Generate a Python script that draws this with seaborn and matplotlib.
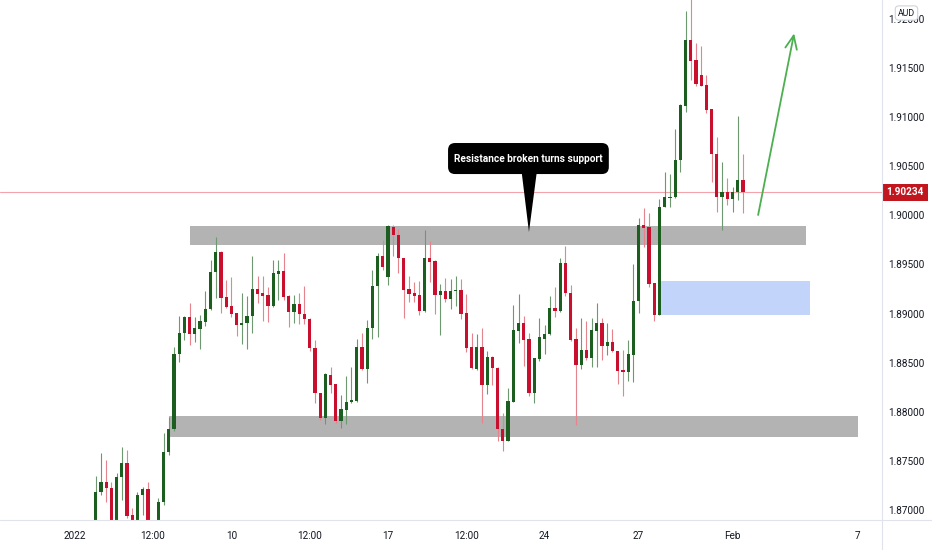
import numpy as np
import pandas as pd
import matplotlib
matplotlib.use("Agg")
import matplotlib.pyplot as plt
import seaborn as sns
from matplotlib.patches import Rectangle, FancyBboxPatch, Polygon
from matplotlib.lines import Line2D

sns.set_theme(style="white")
plt.rcParams['font.family'] = ['Roboto', 'DejaVu Sans']

# ---------------- data (4h candles, GBP/AUD style) ----------------
opens = [1.86817, 1.87180, 1.87282, 1.87221, 1.86817, 1.87339, 1.87482, 1.86949, 1.86857, 1.87153,
         1.87214, 1.86827, 1.86837, 1.87085, 1.87588, 1.87825, 1.88589, 1.88799, 1.88968, 1.88789,
         1.88843, 1.88917, 1.89050, 1.89421, 1.89630, 1.89172, 1.89077, 1.89003, 1.88887, 1.88901,
         1.88979, 1.89250, 1.89213, 1.89192, 1.89080, 1.89403, 1.89431, 1.89179, 1.89019, 1.89098,
         1.88996, 1.88948, 1.88653, 1.88188, 1.87934, 1.88375, 1.88280, 1.87909, 1.88018, 1.88097,
         1.88110, 1.88663, 1.88433, 1.88850, 1.89281, 1.89590, 1.89376, 1.89885, 1.89800, 1.89563,
         1.89250, 1.89213, 1.89186, 1.89029, 1.89566, 1.89539, 1.89189, 1.89233, 1.89146, 1.89230,
         1.89243, 1.89003, 1.88657, 1.88433, 1.88657, 1.88273, 1.88561, 1.88449, 1.87822, 1.87706,
         1.88103, 1.88826, 1.88901, 1.88738, 1.88194, 1.88538, 1.88741, 1.88789, 1.89054, 1.89023,
         1.89518, 1.89207, 1.88738, 1.88477, 1.88629, 1.88551, 1.88826, 1.88901, 1.88670, 1.88708,
         1.88619, 1.88426, 1.88408, 1.88578, 1.89131, 1.89902, 1.89885, 1.89309, 1.88986, 1.90089,
         1.90177, 1.90184, 1.90564, 1.91114, 1.91786, 1.91582, 1.91430, 1.91328, 1.91080, 1.90625,
         1.90184, 1.90235, 1.90164, 1.90241, 1.90360]
highs = [1.87349, 1.87577, 1.87509, 1.87288, 1.87374, 1.87638, 1.87611, 1.87017, 1.87186, 1.87237,
         1.87288, 1.86847, 1.87119, 1.87781, 1.87950, 1.88657, 1.88976, 1.88980, 1.89105, 1.88962,
         1.88986, 1.89230, 1.89546, 1.89783, 1.89637, 1.89342, 1.89370, 1.89006, 1.89207, 1.89179,
         1.89587, 1.89383, 1.89383, 1.89274, 1.89546, 1.89546, 1.89614, 1.89185, 1.89189, 1.89207,
         1.89284, 1.88955, 1.88731, 1.88191, 1.88398, 1.88459, 1.88283, 1.88171, 1.88365, 1.88459,
         1.88738, 1.88799, 1.88935, 1.89444, 1.89614, 1.89749, 1.89902, 1.89905, 1.89858, 1.89566,
         1.89383, 1.89325, 1.89335, 1.89851, 1.89742, 1.89546, 1.89301, 1.89359, 1.89349, 1.89383,
         1.89349, 1.89200, 1.88799, 1.88789, 1.88850, 1.88622, 1.88568, 1.88456, 1.87991, 1.88239,
         1.89088, 1.89200, 1.88976, 1.88799, 1.88548, 1.88952, 1.88881, 1.89179, 1.89274, 1.89563,
         1.89688, 1.89291, 1.88850, 1.88958, 1.88925, 1.88952, 1.89105, 1.88952, 1.88907, 1.88843,
         1.88622, 1.88629, 1.88731, 1.89505, 1.89970, 1.90072, 1.90021, 1.89312, 1.90164, 1.90439,
         1.90422, 1.90877, 1.91130, 1.92084, 1.92250, 1.91752, 1.91725, 1.91430, 1.91083, 1.90795,
         1.90541, 1.90378, 1.90292, 1.91012, 1.90625]
lows = [1.86776, 1.87153, 1.87085, 1.86776, 1.86796, 1.87102, 1.86915, 1.86837, 1.86837, 1.86949,
        1.86796, 1.86745, 1.86817, 1.87051, 1.87560, 1.87804, 1.88510, 1.88731, 1.88680, 1.88714,
        1.88639, 1.88874, 1.89037, 1.89156, 1.89003, 1.89057, 1.88962, 1.88772, 1.88690, 1.88636,
        1.88805, 1.89111, 1.88928, 1.88917, 1.89070, 1.89138, 1.89138, 1.88860, 1.88901, 1.88894,
        1.88894, 1.88622, 1.88087, 1.87916, 1.87876, 1.88188, 1.87883, 1.87832, 1.87876, 1.88087,
        1.88103, 1.88426, 1.88296, 1.88745, 1.88759, 1.89444, 1.89291, 1.89590, 1.89416, 1.88952,
        1.89121, 1.89121, 1.88986, 1.89019, 1.89325, 1.88996, 1.88782, 1.89121, 1.89044, 1.89077,
        1.88942, 1.88606, 1.88433, 1.88426, 1.87883, 1.88181, 1.88273, 1.87706, 1.87601, 1.87703,
        1.88100, 1.88698, 1.88466, 1.88161, 1.88087, 1.88520, 1.88586, 1.88782, 1.88962, 1.89016,
        1.89179, 1.88721, 1.87866, 1.88433, 1.88527, 1.88459, 1.88453, 1.88527, 1.88578, 1.88612,
        1.88280, 1.88164, 1.88317, 1.88307, 1.89003, 1.89681, 1.89268, 1.88928, 1.88981, 1.90082,
        1.90089, 1.90177, 1.90445, 1.91056, 1.91379, 1.91318, 1.91313, 1.91040, 1.90343, 1.90032,
        1.89851, 1.90106, 1.90038, 1.90157, 1.90021]
closes = [1.87186, 1.87282, 1.87221, 1.86817, 1.87339, 1.87482, 1.86942, 1.86857, 1.87153, 1.87214,
          1.86817, 1.86776, 1.87085, 1.87594, 1.87825, 1.88589, 1.88799, 1.88968, 1.88789, 1.88850,
          1.88928, 1.89050, 1.89424, 1.89630, 1.89162, 1.89070, 1.88996, 1.88884, 1.88901, 1.88979,
          1.89250, 1.89200, 1.89182, 1.89080, 1.89410, 1.89431, 1.89172, 1.89019, 1.89098, 1.88996,
          1.88942, 1.88647, 1.88188, 1.87934, 1.88382, 1.88273, 1.87909, 1.88025, 1.88103, 1.88120,
          1.88663, 1.88433, 1.88856, 1.89281, 1.89590, 1.89478, 1.89892, 1.89800, 1.89563, 1.89240,
          1.89200, 1.89179, 1.89029, 1.89566, 1.89528, 1.89189, 1.89233, 1.89146, 1.89233, 1.89243,
          1.88996, 1.88653, 1.88443, 1.88657, 1.88273, 1.88561, 1.88449, 1.87822, 1.87706, 1.88110,
          1.88833, 1.88901, 1.88731, 1.88194, 1.88545, 1.88759, 1.88795, 1.89054, 1.89023, 1.89518,
          1.89207, 1.88731, 1.88477, 1.88629, 1.88551, 1.88833, 1.88901, 1.88670, 1.88708, 1.88619,
          1.88419, 1.88408, 1.88586, 1.89131, 1.89902, 1.89875, 1.89301, 1.88986, 1.90089, 1.90184,
          1.90184, 1.90564, 1.91124, 1.91786, 1.91575, 1.91338, 1.91318, 1.91073, 1.90625, 1.90184,
          1.90235, 1.90164, 1.90241, 1.90360, 1.90234]

time_tick_idx = [-4, 11, 26, 41, 56, 71, 86, 104, 122, 146]
time_tick_labels = ["2022", "12:00", "10", "12:00", "17", "12:00", "24", "27", "Feb", "7"]
price_ticks = [1.870, 1.875, 1.880, 1.885, 1.890, 1.895, 1.900, 1.905, 1.910, 1.915, 1.920]

last_price = 1.90234
upper_zone = (1.89699, 1.89892)   # resistance -> support
lower_zone = (1.87743, 1.87957)   # support
demand_zone = (1.88986, 1.89332)  # blue zone
callout_text = "Resistance broken turns support"

# ---------------- styling ----------------
GREEN = "#1b5e20"
RED = "#c8102e"
GREEN_WICK = "#6e9870"
RED_WICK = "#e6848d"
TXT = "#131722"

df = pd.DataFrame({"open": opens, "high": highs, "low": lows, "close": closes})
df["idx"] = np.arange(len(df))
df["up"] = df["close"] >= df["open"]

fig = plt.figure(figsize=(9.32, 5.5), dpi=100)
fig.patch.set_facecolor("white")
ax = fig.add_axes([0, 30 / 550, 882 / 932, 520 / 550])
ax.set_facecolor("white")

# zones
ax.add_patch(Rectangle((18, upper_zone[0]), 118, upper_zone[1] - upper_zone[0],
                       facecolor="#b3b3b3", edgecolor="none", zorder=1))
ax.add_patch(Rectangle((14, lower_zone[0]), 132, lower_zone[1] - lower_zone[0],
                       facecolor="#b3b3b3", edgecolor="none", zorder=1))
ax.add_patch(Rectangle((108.3, demand_zone[0]), 28.5, demand_zone[1] - demand_zone[0],
                       facecolor="#c3d4fb", edgecolor="none", zorder=1))

# last price line
ax.axhline(last_price, color="#f5a3aa", lw=0.8, zorder=2)

# candles
wick_cols = np.where(df["up"], GREEN_WICK, RED_WICK)
body_cols = np.where(df["up"], GREEN, RED)
ax.vlines(df["idx"], df["low"], df["high"], colors=wick_cols, lw=0.8, zorder=3)
bottoms = np.minimum(df["open"], df["close"])
heights = np.maximum(np.abs(df["close"] - df["open"]), 0.00008)
ax.bar(df["idx"], heights, bottom=bottoms, width=0.62, color=body_cols, lw=0, zorder=4)

# callout
xpx = 1 / 5.22          # index units per pixel
ypx = 0.00010183        # price units per pixel
box_x0, box_x1 = 67.5, 98.3
box_y0, box_y1 = 1.90421, 1.90737
callout = FancyBboxPatch((box_x0, box_y0), box_x1 - box_x0, box_y1 - box_y0,
                         boxstyle=f"round,pad=0,rounding_size={7 * xpx}",
                         mutation_aspect=ypx / xpx,
                         facecolor="black", edgecolor="none", zorder=6)
ax.add_patch(callout)
ax.add_patch(Polygon([(81.6, box_y0 + 2 * ypx), (84.5, box_y0 + 2 * ypx), (83.0, 1.89831)],
                     closed=True, facecolor="black", edgecolor="none", zorder=6))
ax.text((box_x0 + box_x1) / 2, (box_y0 + box_y1) / 2, callout_text, color="white",
        fontsize=7.3, fontweight="bold", ha="center", va="center", zorder=7)

# green projection arrow
ax.annotate("", xy=(133.8, 1.91854), xytext=(126.9, 1.90004),
            arrowprops=dict(arrowstyle="->,head_length=0.8,head_width=0.35",
                            color="#4caf50", lw=1.3, shrinkA=0, shrinkB=0), zorder=8)

# axes
ax.set_xlim(-95.7 / 5.22, (882 - 95.7) / 5.22)
ax.set_ylim(1.87 - 10 * ypx, 1.87 + 510 * ypx)
ax.set_xticks(time_tick_idx)
ax.set_xticklabels(time_tick_labels)
ax.yaxis.tick_right()
ax.set_yticks(price_ticks)
ax.set_yticklabels([f"{p:.5f}" for p in price_ticks])
ax.tick_params(axis="x", length=0, pad=8, labelsize=7.2, labelcolor=TXT)
ax.tick_params(axis="y", length=0, pad=4.5, labelsize=7.2, labelcolor=TXT)
for lab in ax.get_yticklabels():
    lab.set_horizontalalignment("left")
ax.grid(False)
sns.despine(ax=ax, left=True, bottom=True, right=True, top=True)

# price label on the axis
ytr = ax.get_yaxis_transform()
ax.add_patch(Rectangle((1.0, last_price - 8.5 * ypx), 46 / 882, 17 * ypx, transform=ytr,
                       facecolor="#c2161f", edgecolor="none", clip_on=False, zorder=9))
ax.text(1.0 + 23 / 882, last_price, f"{last_price:.5f}", transform=ytr, color="white",
        fontsize=7.2, fontweight="bold", ha="center", va="center", clip_on=False, zorder=10)

# separators
fig.add_artist(Line2D([882 / 932, 882 / 932], [0, 1], color="#e0e3eb", lw=0.8))
fig.add_artist(Line2D([0, 1], [30 / 550, 30 / 550], color="#e0e3eb", lw=0.8))

# currency badge
fig.text(906.5 / 932, 1 - 13 / 550, "AUD", ha="center", va="center", fontsize=6.3, color=TXT,
         bbox=dict(boxstyle="round,pad=0.3,rounding_size=0.4", fc="white", ec="#d1d4dc", lw=0.8),
         zorder=20)

fig.savefig("out.png", dpi=100, facecolor="white")
